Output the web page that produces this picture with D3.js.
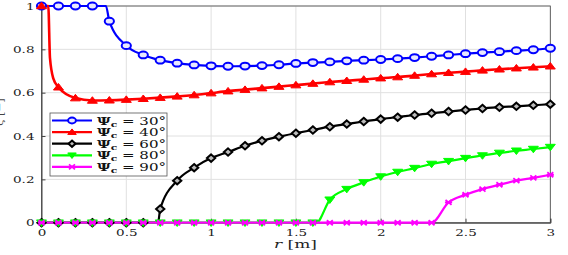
<!DOCTYPE html>
<html>
<head>
<meta charset="utf-8">
<script src="https://cdn.jsdelivr.net/npm/d3@7"></script>
<style>
body { margin: 0; background: #fff; }
</style>
</head>
<body>
<div id="chart"></div>
<script>
// marker positions along r [m]
var rMarks = d3.range(31).map(function(i) { return +(i * 0.1).toFixed(1); });

// values at the markers
var psi30 = [1, 1, 1, 1, 0.93, 0.817, 0.774, 0.750, 0.736, 0.728, 0.724, 0.722, 0.723, 0.725, 0.729, 0.735,
             0.739, 0.742, 0.747, 0.750, 0.753, 0.757, 0.762, 0.768, 0.774, 0.780, 0.785, 0.789, 0.794, 0.798, 0.805];
var psi40 = [1, 0.625, 0.575, 0.564, 0.565, 0.568, 0.572, 0.577, 0.583, 0.589, 0.598, 0.607, 0.614, 0.621, 0.628, 0.635,
             0.642, 0.649, 0.655, 0.661, 0.667, 0.672, 0.679, 0.686, 0.692, 0.697, 0.703, 0.708, 0.713, 0.717, 0.722];
var psi60 = [0, 0, 0, 0, 0, 0, 0, 0.063, 0.194, 0.254, 0.298, 0.326, 0.355, 0.378, 0.397, 0.413,
             0.428, 0.443, 0.455, 0.467, 0.478, 0.487, 0.497, 0.505, 0.513, 0.520, 0.527, 0.533, 0.537, 0.542, 0.547];
var psi80 = [0, 0, 0, 0, 0, 0, 0, 0, 0, 0, 0, 0, 0, 0, 0, 0,
             0, 0.106, 0.155, 0.186, 0.213, 0.234, 0.252, 0.271, 0.284, 0.298, 0.310, 0.322, 0.332, 0.340, 0.349];
var psi90 = [0, 0, 0, 0, 0, 0, 0, 0, 0, 0, 0, 0, 0, 0, 0, 0,
             0, 0, 0, 0, 0, 0, 0, 0, 0.094, 0.129, 0.155, 0.175, 0.194, 0.207, 0.221];

// extra points of the solid curves where they leave 0 or 1 between markers
var bend30 = [[0.38, 1]];
var bend40 = [[0.04, 1], [0.05, 0.76], [0.07, 0.665]];
var bend60 = [[0.687, 0]];
var bend80 = [[1.62, 0]];
var bend90 = [[2.30, 0]];

var legendLabels = ["30", "40", "60", "80", "90"];
var colors = ["#0000ff", "#ff0000", "#000000", "#00ff00", "#ff00ff"];
var shapes = ["circle", "up", "diamond", "down", "star"];
var xTicks = [0, 0.5, 1, 1.5, 2, 2.5, 3];
var yTicks = [0, 0.2, 0.4, 0.6, 0.8, 1];

var series = [psi30, psi40, psi60, psi80, psi90];
var bends = [bend30, bend40, bend60, bend80, bend90];

var W = 568, H = 255;
var margin = {top: 6, right: 17.7, bottom: 32.3, left: 41.5};
var width = W - margin.left - margin.right;
var height = H - margin.top - margin.bottom;
var serif = "'DejaVu Serif', 'Liberation Serif', serif";

// the picture's lettering is stretched sideways, so widen each text
function stretch(sel, k) {
    sel.each(function() {
        var w = this.getComputedTextLength();
        d3.select(this).attr("textLength", w * k).attr("lengthAdjust", "spacingAndGlyphs");
    });
}

var svg = d3.select("#chart").append("svg")
    .attr("width", W)
    .attr("height", H)
    .attr("font-family", serif);

var g = svg.append("g")
    .attr("transform", "translate(" + margin.left + "," + margin.top + ")");

var x = d3.scaleLinear().domain([0, 3]).range([0, width]);
var y = d3.scaleLinear().domain([0, 1]).range([height, 0]);

// grid
g.append("g").selectAll("line").data(xTicks).enter().append("line")
    .attr("x1", function(d) { return x(d); }).attr("x2", function(d) { return x(d); })
    .attr("y1", 0).attr("y2", height)
    .attr("stroke", "#e0e0e0").attr("stroke-width", 1);
g.append("g").selectAll("line").data(yTicks).enter().append("line")
    .attr("y1", function(d) { return y(d); }).attr("y2", function(d) { return y(d); })
    .attr("x1", 0).attr("x2", width)
    .attr("stroke", "#e0e0e0").attr("stroke-width", 1);

// box
g.append("rect").attr("width", width).attr("height", height)
    .attr("fill", "none").attr("stroke", "#444").attr("stroke-width", 0.8);

// axes
var xAxis = g.append("g").attr("transform", "translate(0," + height + ")")
    .call(d3.axisBottom(x).tickValues(xTicks).tickSize(-4).tickPadding(6)
        .tickFormat(function(d) { return d; }));
var yAxis = g.append("g")
    .call(d3.axisLeft(y).tickValues(yTicks).tickSize(-4).tickPadding(7)
        .tickFormat(function(d) { return d; }));
[xAxis, yAxis].forEach(function(a) {
    a.attr("font-family", serif);
    a.select(".domain").attr("stroke", "#444");
    a.selectAll(".tick line").attr("stroke", "#444");
    a.selectAll("text").attr("font-size", 10).attr("fill", "#222");
    stretch(a.selectAll("text"), 1.35);
});

// curves
var line = d3.line()
    .x(function(d) { return x(d[0]); })
    .y(function(d) { return y(d[1]); })
    .curve(d3.curveMonotoneX);

function markerPath(shape, s) {
    if (shape === "up") return "M0," + (-s * 0.75) + "L" + s + "," + (s * 0.55) + "L" + (-s) + "," + (s * 0.55) + "Z";
    if (shape === "down") return "M0," + (s * 0.75) + "L" + s + "," + (-s * 0.55) + "L" + (-s) + "," + (-s * 0.55) + "Z";
    if (shape === "diamond") return "M0," + (-s * 0.8) + "L" + (s * 0.9) + ",0L0," + (s * 0.8) + "L" + (-s * 0.9) + ",0Z";
    return "";
}

function drawMarker(sel, i, k) {
    var c = colors[i], shape = shapes[i];
    k = k || 1;
    if (shape === "circle") {
        sel.append("ellipse").attr("rx", 4.6 * k).attr("ry", 3.4 * k)
            .attr("fill", "#e8e8ff").attr("stroke", c).attr("stroke-width", 2);
    } else if (shape === "up" || shape === "down") {
        sel.append("path").attr("d", markerPath(shape, 5 * k))
            .attr("fill", c).attr("stroke", c).attr("stroke-width", 1);
    } else if (shape === "diamond") {
        sel.append("path").attr("d", markerPath(shape, 4.6 * k))
            .attr("fill", "#bbb").attr("stroke", c).attr("stroke-width", 2);
    } else {
        sel.append("path").attr("d", "M-3,-2.5L3,2.5M-3,2.5L3,-2.5M-3.6,0L3.6,0")
            .attr("stroke", c).attr("stroke-width", 1.8);
    }
}

series.forEach(function(vals, i) {
    var pts = rMarks.map(function(r, k) { return [r, vals[k]]; })
        .concat(bends[i])
        .sort(function(a, b) { return a[0] - b[0]; });
    g.append("path").datum(pts)
        .attr("d", line)
        .attr("fill", "none")
        .attr("stroke", colors[i])
        .attr("stroke-width", i === 1 ? 2.6 : 2.2);
});

series.forEach(function(vals, i) {
    g.append("g").selectAll("g").data(rMarks).enter().append("g")
        .attr("transform", function(r, k) { return "translate(" + x(r) + "," + y(vals[k]) + ")"; })
        .each(function() { drawMarker(d3.select(this), i); });
});

// legend
var lg = svg.append("g").attr("transform", "translate(50,113)");
lg.append("rect").attr("width", 117).attr("height", 63)
    .attr("fill", "#fff").attr("stroke", "#555").attr("stroke-width", 0.8);
legendLabels.forEach(function(lab, i) {
    var row = lg.append("g").attr("transform", "translate(0," + (7.5 + i * 11.6) + ")");
    row.append("line").attr("x1", 2).attr("x2", 42).attr("y1", 0).attr("y2", 0)
        .attr("stroke", colors[i]).attr("stroke-width", 2.2);
    var m = row.append("g").attr("transform", "translate(22,0)");
    drawMarker(m, i, 0.85);
    var t = row.append("text").attr("x", 47).attr("y", 4).attr("font-size", 10.5).attr("fill", "#111");
    t.append("tspan").text("Ψ").attr("font-weight", "bold");
    t.append("tspan").text("c").attr("font-size", 7.5).attr("dy", 2).attr("font-weight", "bold");
    t.append("tspan").text(" = " + lab + "°").attr("dy", -2);
    t.attr("textLength", 69).attr("lengthAdjust", "spacingAndGlyphs");
});

// axis labels
var xl = svg.append("text").attr("x", 274).attr("y", 248)
    .attr("font-size", 10.5).attr("fill", "#222");
xl.append("tspan").text("r").attr("font-style", "italic");
xl.append("tspan").text(" [m]");
xl.attr("textLength", 43).attr("lengthAdjust", "spacingAndGlyphs");

svg.append("text")
    .attr("transform", "translate(3,112) rotate(-90)")
    .attr("text-anchor", "middle")
    .attr("font-size", 11).attr("fill", "#444")
    .text("ξ [−]");
</script>
</body>
</html>
